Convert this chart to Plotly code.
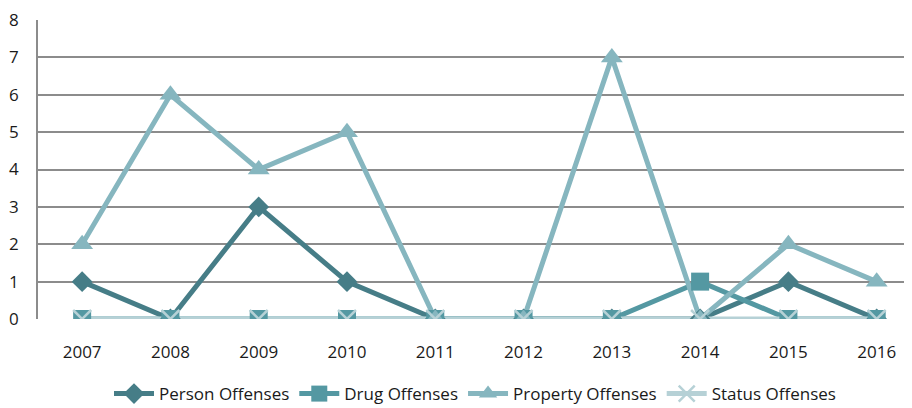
import plotly.graph_objects as go

years = ["2007", "2008", "2009", "2010", "2011", "2012", "2013", "2014", "2015", "2016"]
person = [1, 0, 3, 1, 0, 0, 0, 0, 1, 0]
drug = [0, 0, 0, 0, 0, 0, 0, 1, 0, 0]
prop = [2, 6, 4, 5, 0, 0, 7, 0, 2, 1]
status = [0, 0, 0, 0, 0, 0, 0, 0, 0, 0]

series = [
    ("Person Offenses", person, "#467D87", "diamond", 16),
    ("Drug Offenses", drug, "#5498A2", "square", 18),
    ("Property Offenses", prop, "#86B6BF", "triangle-up", 19),
    ("Status Offenses", status, "#B6D1D6", "x-thin", 18),
]

def mk(color, sym, size):
    m = dict(symbol=sym, size=size, color=color)
    if sym == "x-thin":
        m["line"] = dict(color=color, width=2.5)
    return m

fig = go.Figure()
# lines first
for name, vals, color, sym, size in series:
    fig.add_trace(go.Scatter(x=years, y=vals, mode="lines", showlegend=False,
                             line=dict(color=color, width=5), hoverinfo="skip"))
# markers on top
for name, vals, color, sym, size in series:
    fig.add_trace(go.Scatter(x=years, y=vals, mode="markers", showlegend=False,
                             marker=mk(color, sym, size), name=name))
# legend entries
for name, vals, color, sym, size in series:
    fig.add_trace(go.Scatter(x=[None], y=[None], mode="lines+markers", name=name,
                             line=dict(color=color, width=5), marker=mk(color, sym, size)))

fig.update_layout(
    width=904, height=400,
    margin=dict(l=30, r=0, t=12, b=89, autoexpand=False),
    paper_bgcolor="white", plot_bgcolor="white",
    font=dict(family="Open Sans", size=17, color="#1a1a1a"),
    showlegend=True,
    legend=dict(orientation="h", x=0.5, xanchor="center", y=-0.251, yanchor="middle",
                font=dict(size=17), itemwidth=40),
    xaxis=dict(type="category", range=[-0.5, 9.4], showgrid=False, showline=False,
               ticks="outside", ticklen=18, tickcolor="rgba(0,0,0,0)", tickfont=dict(size=17)),
    yaxis=dict(range=[0, 8], dtick=1, showgrid=True, gridcolor="#8C8C8C", gridwidth=1.5,
               showline=True, linecolor="#8C8C8C", linewidth=1.5, zeroline=False,
               ticks="outside", ticklen=14, tickcolor="rgba(0,0,0,0)", tickfont=dict(size=17),
               ticklabeloverflow="allow"),
)

fig.write_html("out.html")
